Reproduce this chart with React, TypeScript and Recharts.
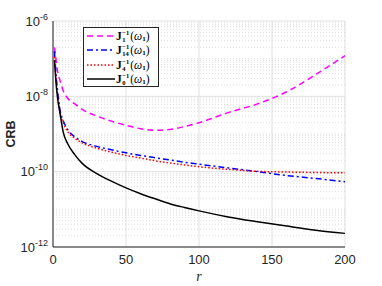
import { LineChart, Line, XAxis, YAxis, CartesianGrid, ReferenceLine } from 'recharts'

// r values sampled along the x axis
const rValues = [1, 2, 3, 5, 7, 10, 15, 20, 30, 40, 50, 60, 70, 80, 90, 100, 120, 140, 160, 180, 200]

// CRB curves
const crbJ1 = [2.0e-7, 1.0e-7, 5.0e-8, 2.5e-8, 1.41e-8, 8.9e-9, 6.3e-9, 4.5e-9, 3.0e-9, 2.2e-9, 1.7e-9, 1.38e-9, 1.26e-9, 1.32e-9, 1.58e-9, 2.0e-9, 3.7e-9, 6.3e-9, 1.32e-8, 3.8e-8, 1.2e-7]
const crbJ14 = [1.58e-7, 4.0e-8, 1.58e-8, 4.0e-9, 2.24e-9, 1.32e-9, 8.3e-10, 6.3e-10, 4.7e-10, 3.8e-10, 3.16e-10, 2.7e-10, 2.34e-10, 2.04e-10, 1.78e-10, 1.58e-10, 1.26e-10, 1.0e-10, 7.9e-11, 6.6e-11, 5.4e-11]
const crbJ4 = [1.12e-7, 3.2e-8, 1.26e-8, 3.5e-9, 2.0e-9, 1.17e-9, 7.6e-10, 5.8e-10, 4.2e-10, 3.3e-10, 2.7e-10, 2.3e-10, 1.95e-10, 1.7e-10, 1.51e-10, 1.35e-10, 1.15e-10, 1.02e-10, 9.8e-11, 9.5e-11, 9.3e-11]
const crbJ0 = [9.3e-8, 2.5e-8, 1.0e-8, 3.2e-9, 1.12e-9, 5.6e-10, 2.8e-10, 1.66e-10, 8.9e-11, 5.6e-11, 3.7e-11, 2.6e-11, 1.9e-11, 1.41e-11, 1.12e-11, 9.1e-12, 6.3e-12, 4.7e-12, 3.6e-12, 2.8e-12, 2.3e-12]

const xTicks = [0, 50, 100, 150, 200]
const yTicks = [1e-12, 1e-10, 1e-8, 1e-6]
const minorDecades = [1e-12, 1e-11, 1e-10, 1e-9, 1e-8, 1e-7]
const minorSteps = [2, 3, 4, 5, 6, 7, 8, 9]

const data = rValues.map((r, i) => ({ r, j1: crbJ1[i], j14: crbJ14[i], j4: crbJ4[i], j0: crbJ0[i] }))

// minor grid lines (plus the unlabeled decades)
const minorY: number[] = []
minorDecades.forEach((d, i) => {
  if (i % 2 === 1) minorY.push(d)
  minorSteps.forEach((s) => minorY.push(s * d))
})

const AXIS = '#262626'
const FONT = '"Liberation Sans", Arial, Helvetica, sans-serif'

const YTick = (props: any) => {
  const { x, y, payload } = props
  const exp = Math.round(Math.log10(payload.value))
  return (
    <text x={x} y={y + 4.5} textAnchor="end" fill={AXIS} fontSize={13} fontFamily={FONT}>
      10
      <tspan dy={-6} fontSize={9}>{exp}</tspan>
    </text>
  )
}

const legendItems = [
  { label: '1', color: '#ff00ff', dash: '6 4' },
  { label: '14', color: '#0000ff', dash: '6 3 2 3' },
  { label: '4', color: '#ff0000', dash: '1.5 2' },
  { label: '0', color: '#000000', dash: '' },
]

function LegendBox() {
  return (
    <div
      style={{
        position: 'absolute', left: 83, top: 27, width: 74, height: 58,
        border: `1px solid ${AXIS}`, background: '#fff',
        fontFamily: '"Liberation Serif", "DejaVu Serif", serif', fontSize: 11.5,
      }}
    >
      {legendItems.map((it, i) => (
        <div key={i} style={{ position: 'absolute', left: 2, top: 1 + i * 14.3, height: 14, display: 'flex', alignItems: 'center' }}>
          <svg width={29} height={14}>
            <line x1={1} x2={29} y1={7} y2={7} stroke={it.color} strokeWidth={1.5} strokeDasharray={it.dash} />
          </svg>
          <span style={{ marginLeft: 1, display: 'flex', alignItems: 'center', color: '#000', lineHeight: '12px' }}>
            <b>J</b>
            <span style={{ display: 'inline-flex', flexDirection: 'column', fontSize: 6.5, fontWeight: 'bold', lineHeight: '7px', marginLeft: 0.5, marginRight: 1 }}>
              <span>−1</span>
              <span>{it.label}</span>
            </span>
            <span>(</span>
            <i>ω</i>
            <span style={{ fontSize: 7, fontWeight: 'bold', position: 'relative', top: 3 }}>1</span>
            <span>)</span>
          </span>
        </div>
      ))}
    </div>
  )
}

export default function App() {
  return (
    <div style={{ position: 'absolute', left: 0, top: 0, width: 382, height: 286, background: '#fff' }}>
      <LineChart width={382} height={286} data={data} margin={{ top: 21, right: 37, bottom: 0, left: 0 }}>
        <CartesianGrid stroke="#e0e0e0" strokeWidth={1} />
        {minorY.map((v) => (
          <ReferenceLine key={v} y={v} stroke="#d4d4d4" strokeDasharray="1 2" strokeWidth={0.8} />
        ))}
        <XAxis
          dataKey="r"
          type="number"
          domain={[0, 200]}
          ticks={xTicks}
          tickSize={0}
          tickMargin={8}
          height={39}
          stroke={AXIS}
          tick={{ fill: AXIS, fontSize: 13, fontFamily: FONT }}
          label={{ value: 'r', position: 'insideBottom', offset: 5, fill: AXIS, fontSize: 14, fontStyle: 'italic', fontFamily: '"Liberation Serif", serif' }}
        />
        <XAxis xAxisId="top" orientation="top" type="number" domain={[0, 200]} height={0} tick={false} stroke={AXIS} />
        <YAxis
          type="number"
          scale="log"
          domain={[1e-12, 1e-6]}
          allowDataOverflow
          ticks={yTicks}
          width={53}
          tickSize={0}
          tickMargin={5}
          stroke={AXIS}
          tick={<YTick />}
          label={{ value: 'CRB', angle: -90, position: 'insideLeft', offset: 11, fill: AXIS, fontSize: 12.5, fontWeight: 'bold', fontFamily: FONT, style: { textAnchor: 'middle' } }}
        />
        <YAxis yAxisId="right" orientation="right" type="number" scale="log" domain={[1e-12, 1e-6]} width={0} tick={false} stroke={AXIS} />
        <Line type="monotone" dataKey="j1" stroke="#ff00ff" strokeWidth={1.5} strokeDasharray="6 4" dot={false} isAnimationActive={false} />
        <Line type="monotone" dataKey="j14" stroke="#0000ff" strokeWidth={1.5} strokeDasharray="6 3 2 3" dot={false} isAnimationActive={false} />
        <Line type="monotone" dataKey="j4" stroke="#ff0000" strokeWidth={1.5} strokeDasharray="1.5 2" dot={false} isAnimationActive={false} />
        <Line type="monotone" dataKey="j0" stroke="#000000" strokeWidth={1.5} dot={false} isAnimationActive={false} />
      </LineChart>
      <LegendBox />
    </div>
  )
}
